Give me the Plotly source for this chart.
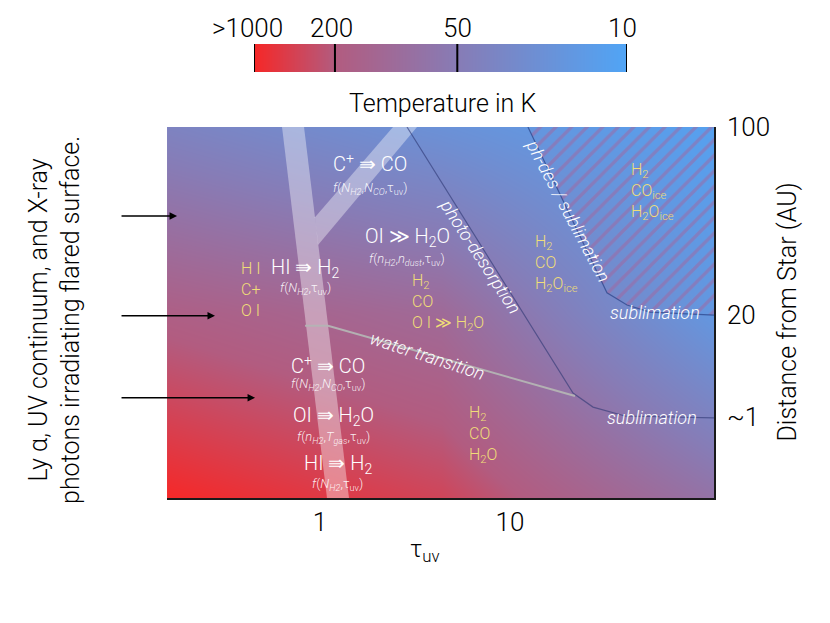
import numpy as np
import plotly.graph_objects as go

FONT = "Roboto"
YELLOW = "rgb(240,222,120)"

# -------------------------------------------------------
# temperature bar (0 = >1000 K ... 1 = 10 K)
# -------------------------------------------------------
temp_stops = [0.0, 0.217, 0.545, 1.0]
temp_colors = ["rgb(246,40,40)", "rgb(178,92,128)", "rgb(135,124,182)", "rgb(80,165,246)"]
temp_labels = [">1000", "200", "50", "10"]
temp_label_shift = [-7, -3, 0, -5]

# background temperature field (0 hot .. 1 cold)
bg_tau = [0.1566, 4.31, 118.5]
bg_y = [0.0, 0.5, 1.0]
bg_z = [[0.00, 0.12, 0.45],
        [0.25, 0.36, 0.85],
        [0.62, 0.78, 0.95]]

# axes (x = tau_uv, y = schematic height, labelled with distance from star)
tau_range = [0.1566, 118.5]
tau_ticks = [1, 10]
tau_ticktext = ["1", "10"]
dist_ticks = [1.0, 0.493, 0.218]
dist_ticktext = ["100", "20", "~1"]

# -------------------------------------------------------
# boundaries
# -------------------------------------------------------
photodes_tau = [2.870, 21.46, 27.35, 40.30, 118.5]
photodes_y = [1.0, 0.283, 0.245, 0.221, 0.216]

phdes_tau = [12.43, 32.39, 41.29, 54.56, 118.5]
phdes_y = [1.0, 0.553, 0.520, 0.501, 0.493]

water_tau = [0.834, 1.102, 21.99]
water_y = [0.464, 0.464, 0.275]

# white translucent HI->H2 / C+->CO fronts
band_tau = [0.631, 0.824, 1.421, 1.088]
band_y = [1.0, 1.0, 0.0, 0.0]
branch_tau = [0.941, 2.423, 3.240, 0.976]
branch_y = [0.757, 1.0, 1.0, 0.682]

# -------------------------------------------------------
# labels
# -------------------------------------------------------
rx_text = ["C<sup>+</sup> ⇛ CO", "OI ≫ H<sub>2</sub>O", "HI ⇛ H<sub>2</sub>",
           "C<sup>+</sup> ⇛ CO", "OI ⇛ H<sub>2</sub>O", "HI ⇛ H<sub>2</sub>"]
rx_tau = [1.833, 2.870, 0.834, 1.102, 1.171, 1.243]
rx_y = [0.903, 0.704, 0.620, 0.358, 0.221, 0.092]

fx_text = ["<i>f</i>(<i>N<sub>H2</sub></i>,<i>N<sub>CO</sub></i>,τ<sub>uv</sub>)",
           "<i>f</i>(<i>n<sub>H2</sub></i>,<i>n<sub>dust</sub></i>,τ<sub>uv</sub>)",
           "<i>f</i>(<i>N<sub>H2</sub></i>,τ<sub>uv</sub>)",
           "<i>f</i>(<i>N<sub>H2</sub></i>,<i>N<sub>CO</sub></i>,τ<sub>uv</sub>)",
           "<i>f</i>(<i>n<sub>H2</sub></i>,<i>T<sub>gas</sub></i>,τ<sub>uv</sub>)",
           "<i>f</i>(<i>N<sub>H2</sub></i>,τ<sub>uv</sub>)"]
fx_y = [0.833, 0.644, 0.566, 0.305, 0.163, 0.037]

sp_text = ["H I<br>C+<br>O I",
           "H<sub>2</sub><br>CO<br>O I ≫ H<sub>2</sub>O",
           "H<sub>2</sub><br>CO<br>H<sub>2</sub>O<sub>ice</sub>",
           "H<sub>2</sub><br>CO<sub>ice</sub><br>H<sub>2</sub>O<sub>ice</sub>",
           "H<sub>2</sub><br>CO<br>H<sub>2</sub>O"]
sp_tau = [0.375, 2.977, 13.21, 42.3, 5.937]
sp_y = [0.563, 0.528, 0.631, 0.825, 0.170]

rg_text = ["photo-desorption", "ph-des / sublimation", "water transition",
           "sublimation", "sublimation"]
rg_tau = [7.04, 20.2, 3.66, 57.98, 55.9]
rg_y = [0.652, 0.774, 0.385, 0.501, 0.218]
rg_angle = [57, 62, 18, 0, 0]

arrow_tau = [0.1768, 0.280, 0.455]
arrow_y = [0.760, 0.491, 0.270]
arrow_tail_tau = 0.0886


def lg(v):
    return [float(np.log10(t)) for t in v]


fig = go.Figure()

# background gradient
fig.add_trace(go.Heatmap(
    x=lg(bg_tau), y=bg_y, z=bg_z, zmin=0, zmax=1, zsmooth="best",
    colorscale=[[s, c] for s, c in zip(temp_stops, temp_colors)],
    showscale=False, hoverinfo="skip"))

# hatched ice region
fig.add_trace(go.Scatter(
    x=lg(phdes_tau + [tau_range[1]]), y=phdes_y + [1.0],
    fill="toself", mode="none", fillcolor="rgba(0,0,0,0)",
    fillpattern=dict(shape="/", size=11, solidity=0.3,
                     fgcolor="rgba(170,95,150,0.9)", bgcolor="rgba(0,0,0,0)"),
    hoverinfo="skip"))

# white fronts
for bx, by in [(band_tau, band_y), (branch_tau, branch_y)]:
    fig.add_trace(go.Scatter(
        x=lg(bx), y=by, fill="toself", mode="none",
        fillcolor="rgba(255,255,255,0.38)", hoverinfo="skip"))

fig.add_trace(go.Scatter(x=lg(photodes_tau), y=photodes_y, mode="lines",
                         line=dict(color="rgba(45,55,115,0.6)", width=1.2),
                         hoverinfo="skip"))
fig.add_trace(go.Scatter(x=lg(phdes_tau), y=phdes_y, mode="lines",
                         line=dict(color="rgba(40,65,135,0.7)", width=1.2),
                         hoverinfo="skip"))
fig.add_trace(go.Scatter(x=lg(water_tau), y=water_y, mode="lines",
                         line=dict(color="rgba(180,180,180,0.95)", width=2),
                         hoverinfo="skip"))

# temperature bar
fig.add_trace(go.Heatmap(
    x=[0, 1], y=[0, 1], z=[[0, 1], [0, 1]], zmin=0, zmax=1, zsmooth="best",
    colorscale=[[s, c] for s, c in zip(temp_stops, temp_colors)],
    showscale=False, hoverinfo="skip", xaxis="x2", yaxis="y2"))

shapes = [dict(type="line", xref="x2", yref="y2", x0=t, x1=t, y0=0, y1=1,
               line=dict(color="black", width=2)) for t in temp_stops]

ann = []
for t, lab, sh in zip(temp_stops, temp_labels, temp_label_shift):
    ann.append(dict(x=t, y=0.9679, xref="x2", yref="paper", text=lab, xshift=sh,
                    xanchor="center", yanchor="middle",
                    showarrow=False, font=dict(size=26, color="black")))
ann.append(dict(x=0.5229, y=0.8475, xref="paper", yref="paper",
                xanchor="center", yanchor="middle",
                text="Temperature in K", showarrow=False,
                font=dict(size=25, color="black")))

for t, y, s in zip(rx_tau, rx_y, rx_text):
    ann.append(dict(x=np.log10(t), y=y, text=s, showarrow=False,
                    font=dict(size=20, color="white")))
for t, y, s in zip(rx_tau, fx_y, fx_text):
    ann.append(dict(x=np.log10(t), y=y, text=s, showarrow=False,
                    font=dict(size=13, color="rgba(255,255,255,0.9)")))
for t, y, s in zip(sp_tau, sp_y, sp_text):
    ann.append(dict(x=np.log10(t), y=y, text=s, showarrow=False, xanchor="left",
                    align="left", font=dict(size=16, color=YELLOW)))
for t, y, s, a in zip(rg_tau, rg_y, rg_text, rg_angle):
    ann.append(dict(x=np.log10(t), y=y, text="<i>" + s + "</i>", textangle=a,
                    showarrow=False, font=dict(size=18, color="white")))

for t, y in zip(arrow_tau, arrow_y):
    ann.append(dict(x=np.log10(t), y=y, ax=np.log10(arrow_tail_tau), ay=y,
                    axref="x", ayref="y", text="", showarrow=True,
                    arrowhead=2, arrowsize=1, arrowwidth=1.5, arrowcolor="black"))

ann.append(dict(x=0.0566, y=0.4992, xref="paper", yref="paper", textangle=-90,
                xanchor="center", yanchor="middle",
                text="Ly α, UV continuum, and X-ray<br>photons irradiating flared surface.",
                showarrow=False, font=dict(size=25, color="black")))
ann.append(dict(x=0.9386, y=0.5112, xref="paper", yref="paper", textangle=-90,
                xanchor="center", yanchor="middle",
                text="Distance from Star (AU)", showarrow=False,
                font=dict(size=25, color="black")))
ann.append(dict(x=0.5024, y=0.13, xref="paper", yref="paper",
                xanchor="center", yanchor="middle",
                text="τ<sub>uv</sub>", showarrow=False,
                font=dict(size=24, color="black")))

fig.update_layout(
    width=830, height=623,
    margin=dict(l=0, r=0, t=0, b=0, autoexpand=False),
    paper_bgcolor="white", plot_bgcolor="white",
    font=dict(family=FONT, weight=300),
    showlegend=False,
    xaxis=dict(domain=[0.1916, 0.8506], range=lg(tau_range),
               tickvals=lg(tau_ticks), ticktext=tau_ticktext,
               showgrid=False, zeroline=False, ticks="", automargin=False,
               showline=True, linecolor="#1a1a1a", linewidth=2,
               ticklabelstandoff=0, tickfont=dict(size=26, color="black")),
    yaxis=dict(domain=[0.2135, 0.8090], range=[0, 1], side="right",
               tickvals=dist_ticks, ticktext=dist_ticktext,
               showgrid=False, zeroline=False, ticks="", automargin=False,
               showline=True, linecolor="#1a1a1a", linewidth=1.5,
               ticklabelstandoff=6, tickfont=dict(size=26, color="black")),
    xaxis2=dict(domain=[0.2964, 0.7458], range=[0, 1], visible=False),
    yaxis2=dict(domain=[0.8973, 0.9422], range=[0, 1], visible=False),
    shapes=shapes,
    annotations=ann,
)

fig.write_html("out.html")
